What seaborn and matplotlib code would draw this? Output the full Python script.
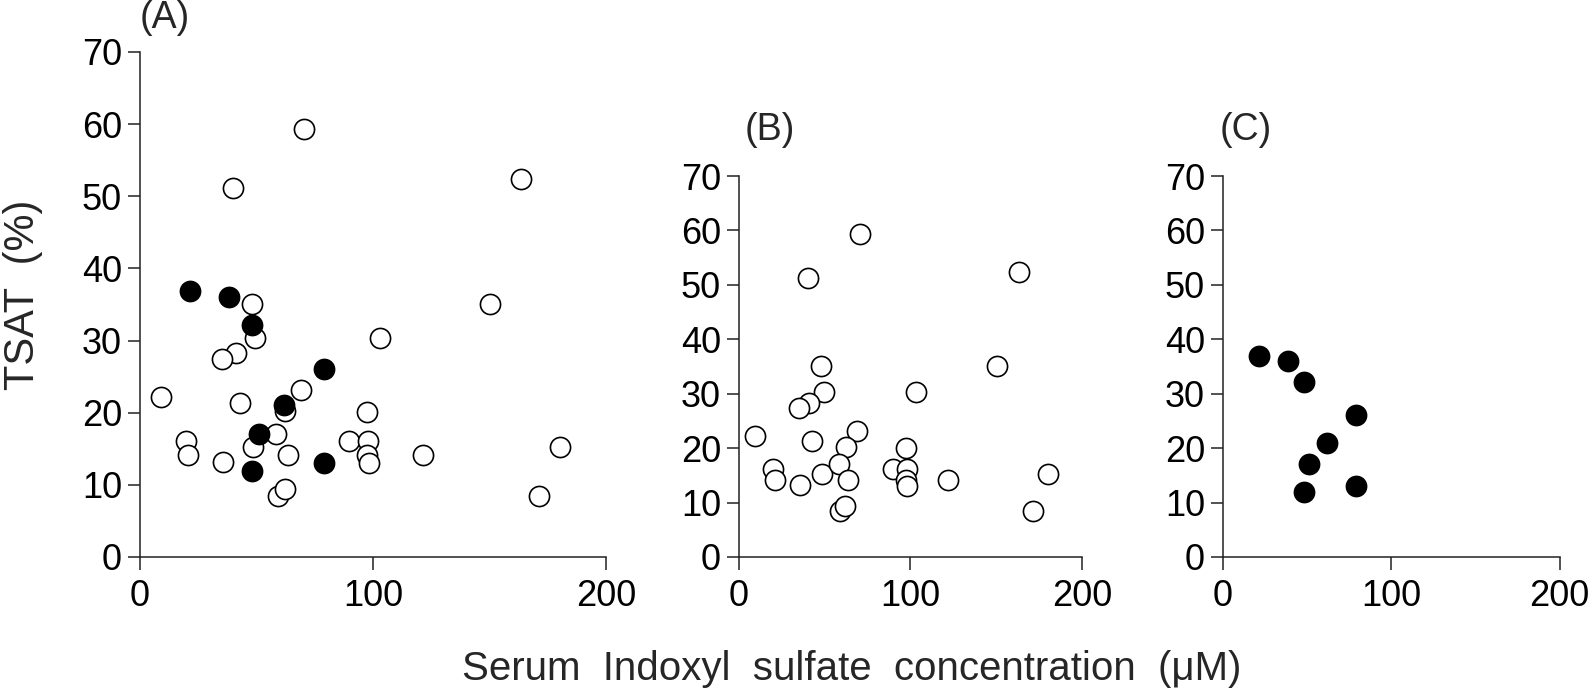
import pandas as pd
import seaborn as sns
import matplotlib.pyplot as plt

# open circles: patients without the condition, filled: with
open_x = [70.6, 40.1, 163.4, 150.2, 47.9, 49.4, 103.1, 41.0, 35.0, 9.1, 42.8, 68.9, 62.3, 97.5, 19.6,
          20.8, 35.8, 48.6, 58.2, 63.6, 89.7, 97.9, 97.5, 98.1, 121.6, 180.2, 171.2, 59.1, 62.1]
open_y = [59.3, 51.2, 52.4, 35.1, 35.1, 30.4, 30.4, 28.3, 27.4, 22.2, 21.3, 23.1, 20.2, 20.1, 16.1,
          14.1, 13.2, 15.3, 17.1, 14.1, 16.1, 16.1, 14.1, 13.0, 14.1, 15.3, 8.4, 8.5, 9.4]
filled_x = [21.4, 38.3, 48.0, 78.8, 61.6, 50.9, 48.0, 78.8]
filled_y = [36.9, 36.0, 32.1, 26.0, 21.0, 17.1, 11.9, 13.0]

y_ticks = [0, 10, 20, 30, 40, 50, 60, 70]
x_ticks = [0, 100, 200]
panel_labels = ["(A)", "(B)", "(C)"]

open_df = pd.DataFrame({"IS": open_x, "TSAT": open_y})
filled_df = pd.DataFrame({"IS": filled_x, "TSAT": filled_y})

sns.set_style("ticks")
plt.rcParams["font.family"] = ["Liberation Sans", "DejaVu Sans"]
fs = 26

fig = plt.figure(figsize=(15.94, 6.93), dpi=100)
axA = fig.add_axes([0.0878, 0.1963, 0.2924, 0.7287])
axB = fig.add_axes([0.4636, 0.1963, 0.2152, 0.5497])
axC = fig.add_axes([0.7673, 0.1963, 0.2112, 0.5497])

ms = 210
lw = 1.2

def draw(ax, show_open, show_filled):
    if show_open:
        sns.scatterplot(data=open_df, x="IS", y="TSAT", ax=ax, s=ms, color="white",
                        edgecolor="black", linewidth=lw, zorder=3, clip_on=False)
    if show_filled:
        sns.scatterplot(data=filled_df, x="IS", y="TSAT", ax=ax, s=ms, color="black",
                        edgecolor="black", linewidth=lw, zorder=4, clip_on=False)
    ax.set_xlim(0, 200)
    ax.set_ylim(0, 70)
    ax.set_xticks(x_ticks)
    ax.set_yticks(y_ticks)
    ax.set_xlabel("")
    ax.set_ylabel("")
    ax.tick_params(axis="both", direction="out", length=9, width=1.1, color="#222222",
                   labelsize=fs, labelcolor="black")
    ax.tick_params(axis="y", pad=4)
    ax.tick_params(axis="x", pad=7)
    for sp in ["left", "bottom"]:
        ax.spines[sp].set_linewidth(1.1)
        ax.spines[sp].set_color("#222222")
    sns.despine(ax=ax)

draw(axA, True, True)
draw(axB, True, False)
draw(axC, False, True)

fig.text(0.0878, 0.974, panel_labels[0], fontsize=27, ha="left", va="center")
fig.text(0.467, 0.812, panel_labels[1], fontsize=27, ha="left", va="center")
fig.text(0.765, 0.812, panel_labels[2], fontsize=27, ha="left", va="center")

fig.text(0.534, 0.035, "Serum  Indoxyl  sulfate  concentration  (μM)", fontsize=29,
         ha="center", va="center")
fig.text(0.0144, 0.574, "TSAT  (%)", fontsize=30, rotation=90, ha="center", va="center")

fig.savefig("out.png", dpi=100)
